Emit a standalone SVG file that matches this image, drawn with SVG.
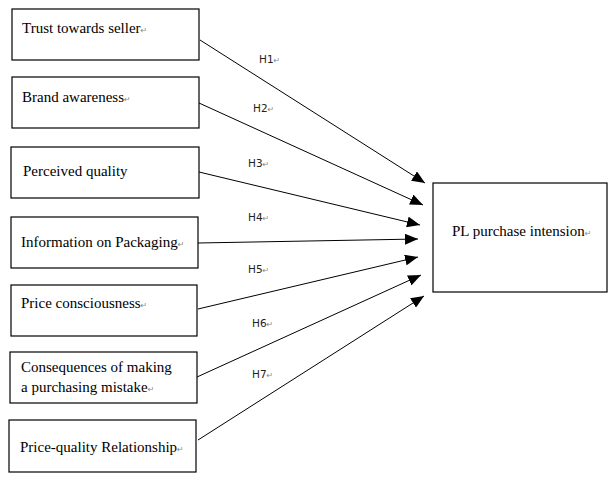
<svg xmlns="http://www.w3.org/2000/svg" width="616" height="485" viewBox="0 0 616 485">
<style>
.box{fill:#fff;stroke:#000;stroke-width:1.2}
.t{font-family:"Liberation Serif",serif;font-size:15px;fill:#000}
.h{font-family:"DejaVu Sans","Liberation Sans",sans-serif;font-size:10.5px;fill:#222}
.pm{font-family:"DejaVu Sans",sans-serif;font-size:8px;fill:#888}
.c{stroke:#000;stroke-width:1;fill:none}
</style>
<defs>
<marker id="ah" markerUnits="userSpaceOnUse" markerWidth="13" markerHeight="11" refX="13" refY="5.5" orient="auto">
<path d="M0,0 L13,5.5 L0,11 z" fill="#000"/>
</marker>
</defs>
<rect width="616" height="485" fill="#fff"/>
<g id="connectors">
<line class="c" x1="200" y1="40" x2="425" y2="183" marker-end="url(#ah)"/>
<line class="c" x1="199" y1="103" x2="423" y2="205" marker-end="url(#ah)"/>
<line class="c" x1="199" y1="172" x2="420" y2="225" marker-end="url(#ah)"/>
<line class="c" x1="198" y1="243" x2="418" y2="239" marker-end="url(#ah)"/>
<line class="c" x1="198" y1="309" x2="418" y2="257" marker-end="url(#ah)"/>
<line class="c" x1="197" y1="377" x2="421" y2="275" marker-end="url(#ah)"/>
<line class="c" x1="198" y1="440" x2="424" y2="296" marker-end="url(#ah)"/>
<text class="h" x="259" y="63">H1<tspan class="pm">↵</tspan></text>
<text class="h" x="253" y="112">H2<tspan class="pm">↵</tspan></text>
<text class="h" x="248" y="167">H3<tspan class="pm">↵</tspan></text>
<text class="h" x="248" y="221">H4<tspan class="pm">↵</tspan></text>
<text class="h" x="248" y="273">H5<tspan class="pm">↵</tspan></text>
<text class="h" x="252" y="327">H6<tspan class="pm">↵</tspan></text>
<text class="h" x="252" y="378">H7<tspan class="pm">↵</tspan></text>
</g>
<g id="n1"><rect class="box" x="12" y="9" width="187" height="51"/><text class="t" x="22" y="33">Trust towards seller<tspan class="pm">↵</tspan></text></g>
<g id="n2"><rect class="box" x="12" y="77" width="187" height="51"/><text class="t" x="22" y="102">Brand awareness<tspan class="pm">↵</tspan></text></g>
<g id="n3"><rect class="box" x="11" y="147" width="188" height="51"/><text class="t" x="23" y="176">Perceived quality</text></g>
<g id="n4"><rect class="box" x="11" y="217" width="187" height="51"/><text class="t" x="21" y="247">Information on Packaging<tspan class="pm">↵</tspan></text></g>
<g id="n5"><rect class="box" x="11" y="285" width="186" height="51"/><text class="t" x="21" y="308">Price consciousness<tspan class="pm">↵</tspan></text></g>
<g id="n6"><rect class="box" x="10" y="352" width="187" height="51"/><text class="t" x="21" y="372">Consequences of making</text><text class="t" x="21" y="392">a purchasing mistake<tspan class="pm">↵</tspan></text></g>
<g id="n7"><rect class="box" x="9" y="420" width="187" height="52"/><text class="t" x="20" y="452">Price-quality Relationship<tspan class="pm">↵</tspan></text></g>
<g id="target"><rect class="box" x="433" y="183" width="174" height="109"/><text class="t" x="452" y="236">PL purchase intension<tspan class="pm">↵</tspan></text></g>
</svg>
